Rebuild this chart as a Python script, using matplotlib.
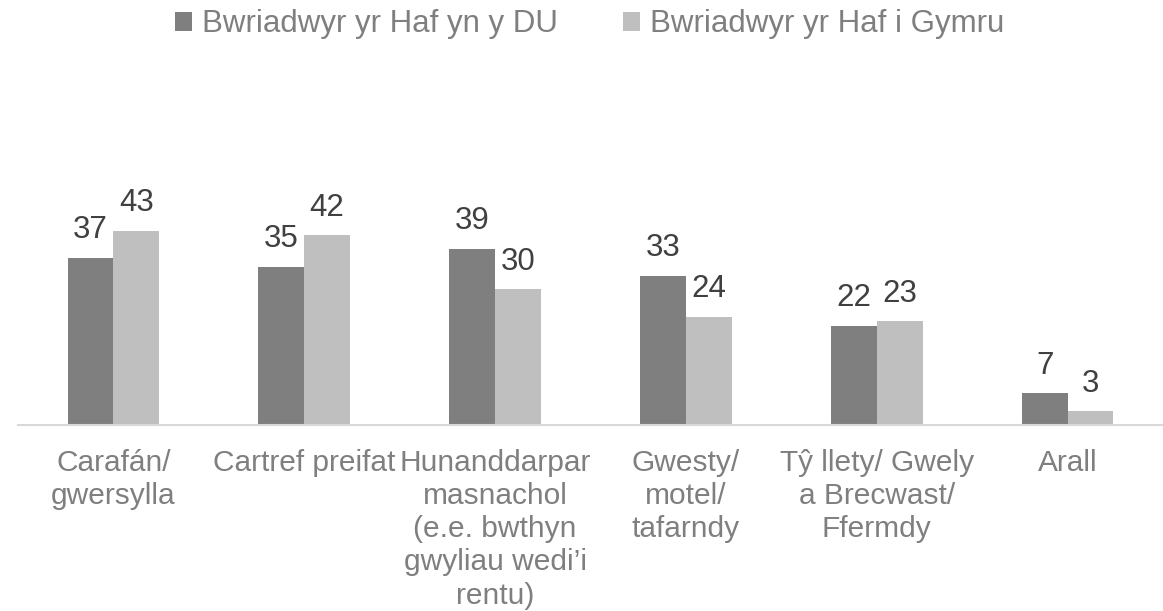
import matplotlib.pyplot as plt
import numpy as np

plt.rcParams['font.family'] = ['Liberation Sans', 'DejaVu Sans']

categories = [
    "Carafán/\ngwersylla",
    "Cartref preifat",
    "Hunanddarpar\nmasnachol\n(e.e. bwthyn\ngwyliau wedi’i\nrentu)",
    "Gwesty/\nmotel/\ntafarndy",
    "Tŷ llety/ Gwely\na Brecwast/\nFfermdy",
    "Arall",
]
series_names = ["Bwriadwyr yr Haf yn y DU", "Bwriadwyr yr Haf i Gymru"]
uk_values = [37, 35, 39, 33, 22, 7]
wales_values = [43, 42, 30, 24, 23, 3]

colors = ["#7f7f7f", "#bfbfbf"]
text_gray = "#7f7f7f"
label_gray = "#404040"

fig = plt.figure(figsize=(11.63, 6.11), dpi=100)
ax = fig.add_axes([18 / 1163, 1 - 425 / 611, 1 - 18 / 1163, 305 / 611])

x = np.arange(len(categories))
w = 0.24
for i, (vals, name) in enumerate(zip([uk_values, wales_values], series_names)):
    bars = ax.bar(x + (i - 0.5) * w, vals, width=w, color=colors[i], label=name)
    for b, v in zip(bars, vals):
        ax.annotate(str(v), (b.get_x() + b.get_width() / 2, v),
                    xytext=(0, 9), textcoords="offset points",
                    ha="center", va="bottom", fontsize=22.5, color=label_gray)

ax.set_xlim(-0.5, len(categories) - 0.5)
ax.set_ylim(0, 305 / 4.52)
ax.set_xticks(x)
ax.set_xticklabels(categories, fontsize=21.5, color=text_gray, linespacing=1.24)
ax.tick_params(axis="x", length=0, pad=17)
ax.set_yticks([])
for s in ["top", "right", "left"]:
    ax.spines[s].set_visible(False)
ax.spines["bottom"].set_color("#d9d9d9")
ax.spines["bottom"].set_linewidth(1.5)

fig.legend(loc="center", bbox_to_anchor=(0.507, 0.96), ncol=2, frameon=False,
           fontsize=22.5, labelcolor=text_gray, handlelength=0.55, handleheight=0.55,
           handletextpad=0.3, columnspacing=2.1)

fig.savefig("out.png", dpi=100)
